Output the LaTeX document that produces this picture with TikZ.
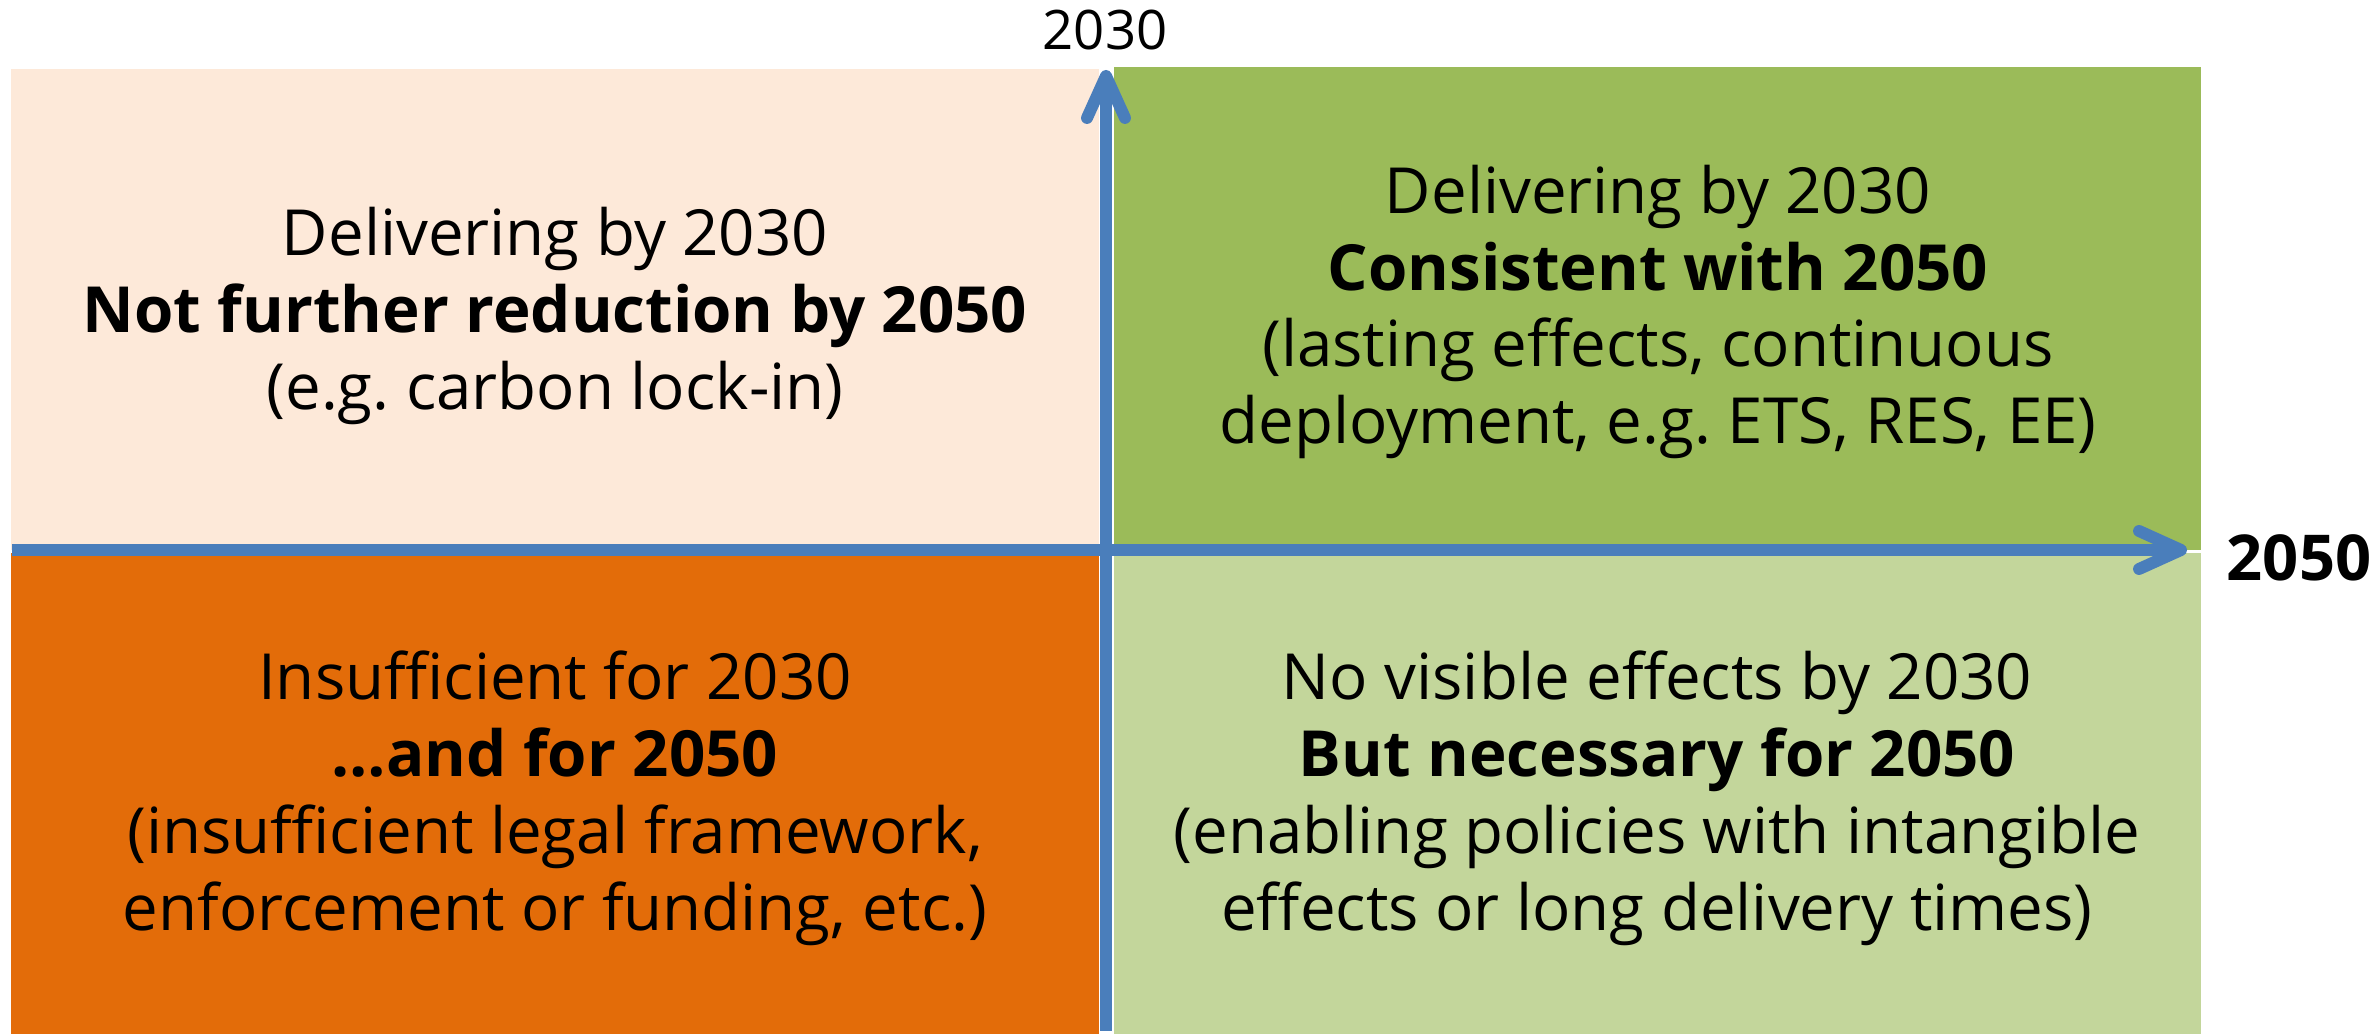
\documentclass[tikz,border=0pt]{standalone}
\usepackage{fontspec}
\setmainfont{Open Sans}
\usepackage{tikz}
\usetikzlibrary{arrows.meta}
\definecolor{peach}{HTML}{FDE9D9}
\definecolor{olive}{HTML}{9BBB59}
\definecolor{rust}{HTML}{E36C09}
\definecolor{sage}{HTML}{C3D69B}
\definecolor{axisblue}{HTML}{4A7EBB}
\frenchspacing

\begin{document}
\begin{tikzpicture}[
    quad/.style = {align=center, inner sep=0pt, font=\fontsize{18.1}{21.9}\selectfont},
    axis/.style = {draw=axisblue, line width=3.4pt,
      -{Straight Barb[length=4.2mm, width=3.8mm, round]}}]
  \useasboundingbox (0,0) rectangle (23.79,10.34);

  % four quadrants
  \fill[peach] (0.11,4.84) rectangle (10.99,9.65);
  \fill[olive] (11.14,4.84) rectangle (22.01,9.67);
  \fill[rust]  (0.11,0) rectangle (10.99,4.81);
  \fill[sage]  (11.14,0) rectangle (22.01,4.81);

  \node[quad] (lock) at (5.55,7.18) {Delivering by 2030\\
    \textbf{Not further reduction by 2050}\\(e.g. carbon lock-in)};
  \node[quad] (cons) at (16.58,7.22) {Delivering by 2030\\
    \textbf{Consistent with 2050}\\(lasting effects, continuous\\
    deployment, e.g. ETS, RES, EE)};
  \node[quad] (insuf) at (5.55,2.36) {Insufficient for 2030\\
    \textbf{…and for 2050}\\(insufficient legal framework,\\
    enforcement or funding, etc.)};
  \node[quad] (enab) at (16.57,2.36) {No visible effects by 2030\\
    \textbf{But necessary for 2050}\\(enabling policies with intangible\\
    effects or long delivery times)};

  % axes
  \coordinate (xs) at (0.12,4.84);
  \coordinate (xe) at (21.87,4.84);
  \coordinate (ys) at (11.06,0.03);
  \coordinate (ye) at (11.06,9.64);
  \draw[axis] (xs) -- (xe);
  \draw[axis] (ys) -- (ye);

  \node[inner sep=0pt, font=\fontsize{15.5}{18}\selectfont] (t30) at (11.05,10.04) {2030};
  \node[inner sep=0pt, font=\fontsize{18}{21}\selectfont\bfseries] (t50) at (22.99,4.76) {2050};
  % \draw[help lines] (0,0) grid (24,11);
\end{tikzpicture}
\end{document}
